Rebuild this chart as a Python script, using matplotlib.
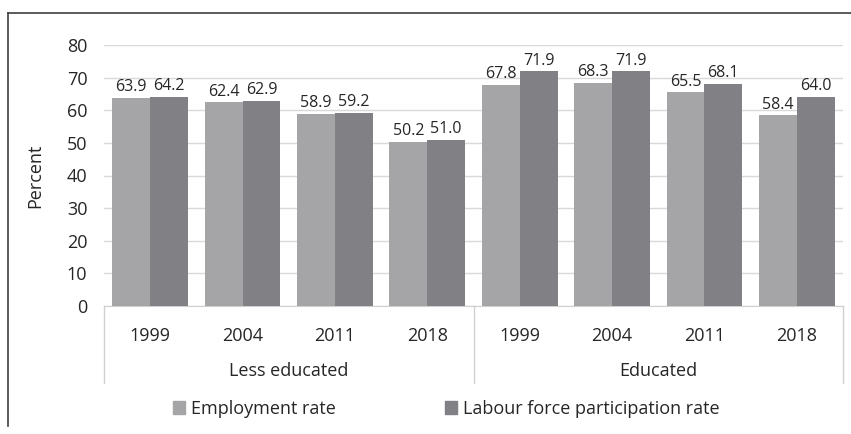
import matplotlib.pyplot as plt
import numpy as np
from matplotlib.lines import Line2D
from matplotlib.patches import Patch

plt.rcParams['font.family'] = ['Open Sans', 'DejaVu Sans']

# data
groups = ['Less educated', 'Educated']
years = ['1999', '2004', '2011', '2018']
employment = [63.9, 62.4, 58.9, 50.2, 67.8, 68.3, 65.5, 58.4]
labour = [64.2, 62.9, 59.2, 51.0, 71.9, 71.9, 68.1, 64.0]

c_emp = '#a5a5a7'
c_lab = '#818185'
txt = '#262626'

fig = plt.figure(figsize=(8.51, 4.34), dpi=100)
ax = fig.add_axes([104 / 851, 1 - 306 / 434, 739 / 851, 261 / 434])

x = np.arange(len(employment))
w = 0.41
b1 = ax.bar(x - w / 2, employment, w, color=c_emp, zorder=3)
b2 = ax.bar(x + w / 2, labour, w, color=c_lab, zorder=3)
for bars in (b1, b2):
    ax.bar_label(bars, fmt='%.1f', padding=2, fontsize=11.5, color=txt)

ax.set_xlim(-0.5, len(x) - 0.5)
ax.set_ylim(0, 80)
ax.set_yticks(range(0, 81, 10))
ax.yaxis.grid(True, color='#d9d9d9', linewidth=1, zorder=0)
ax.tick_params(axis='y', length=0, labelsize=13, labelcolor=txt, pad=12)
ax.tick_params(axis='x', length=0)
ax.set_xticks(x)
ax.set_xticklabels(years * 2, fontsize=13, color=txt)
ax.tick_params(axis='x', pad=15)
for s in ['top', 'right', 'left']:
    ax.spines[s].set_visible(False)
ax.spines['bottom'].set_color('#d0d0d0')
ax.set_ylabel('Percent', fontsize=13, color=txt, labelpad=16)

# category boxes under the axis
for xv in [-0.5, 3.5, 7.5]:
    ax.plot([xv, xv], [0, -0.295], transform=ax.get_xaxis_transform(),
            color='#d0d0d0', linewidth=1, clip_on=False)
for i, g in enumerate(groups):
    ax.text(1.5 + 4 * i, -0.25, g, transform=ax.get_xaxis_transform(),
            ha='center', va='center', fontsize=13, color=txt)

# legend
handles = [Patch(color=c_emp), Patch(color=c_lab)]
fig.legend(handles, ['Employment rate', 'Labour force participation rate'],
           loc='center', bbox_to_anchor=(446 / 851, 1 - 409 / 434), ncol=2,
           frameon=False, fontsize=13, handlelength=0.7, handleheight=0.7,
           handletextpad=0.3, columnspacing=6.05, labelcolor=txt)

# outer frame
fig.add_artist(Line2D([8 / 851, 1], [1 - 13 / 434] * 2, color='#404040', linewidth=1.2))
fig.add_artist(Line2D([8 / 851] * 2, [1 - 13 / 434, 1 - 426 / 434], color='#404040', linewidth=1.2))

fig.savefig('out.png', dpi=100)
